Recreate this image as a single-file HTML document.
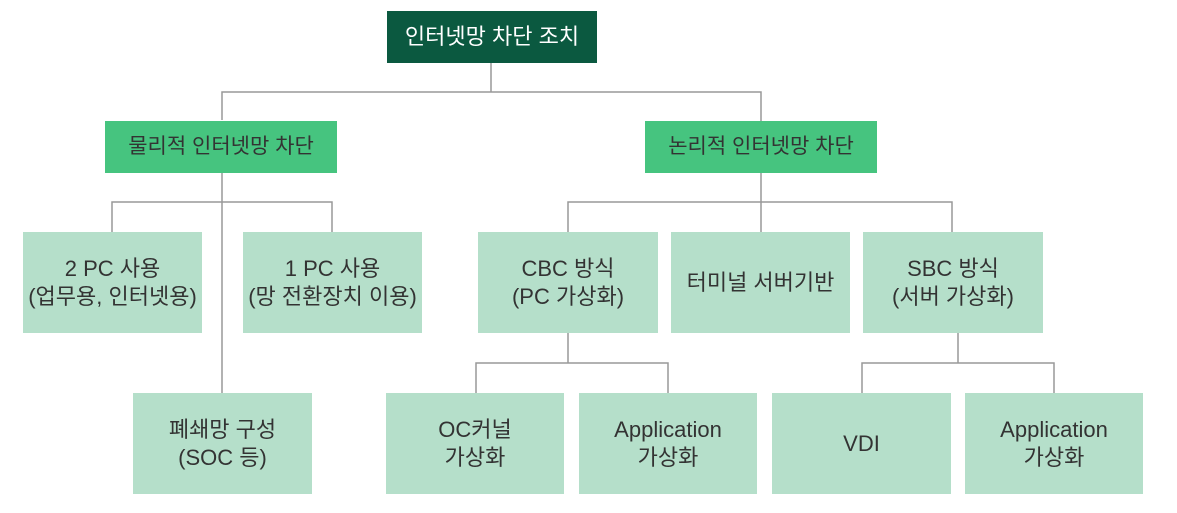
<!DOCTYPE html>
<html><head><meta charset="utf-8"><style>
body{margin:0;width:1177px;height:513px;background:#fff;position:relative;overflow:hidden;font-family:"Liberation Sans","Noto Sans CJK KR",sans-serif;}
.b{position:absolute;display:flex;align-items:center;justify-content:center;text-align:center;color:#333;font-size:22px;line-height:28px;}
.d{background:#0b5940;color:#fff;font-size:22px;}
.g{background:#46c47f;font-size:21px;}
.l{background:#b5dfca;}
svg{position:absolute;left:0;top:0}
</style></head><body>
<svg width="1177" height="513"><g stroke="#999" stroke-width="1.5" fill="none">
<path d="M491 63V92M222 120V92H761V121"/>
<path d="M222 173V393M112 232V202H332V232"/>
<path d="M761 173V232M568 232V202H952V232"/>
<path d="M568 333V363M476 393V363H668V393"/>
<path d="M958 333V363M862 393V363H1054V393"/>
</g></svg>
<div class="b d" style="left:387px;top:11px;width:210px;height:52px">인터넷망 차단 조치</div>
<div class="b g" style="left:105px;top:121px;width:232px;height:52px">물리적 인터넷망 차단</div>
<div class="b g" style="left:645px;top:121px;width:232px;height:52px">논리적 인터넷망 차단</div>
<div class="b l" style="left:23px;top:232px;width:179px;height:101px">2 PC 사용<br>(업무용, 인터넷용)</div>
<div class="b l" style="left:243px;top:232px;width:179px;height:101px">1 PC 사용<br>(망 전환장치 이용)</div>
<div class="b l" style="left:478px;top:232px;width:180px;height:101px">CBC 방식<br>(PC 가상화)</div>
<div class="b l" style="left:671px;top:232px;width:179px;height:101px">터미널 서버기반</div>
<div class="b l" style="left:863px;top:232px;width:180px;height:101px">SBC 방식<br>(서버 가상화)</div>
<div class="b l" style="left:133px;top:393px;width:179px;height:101px">폐쇄망 구성<br>(SOC 등)</div>
<div class="b l" style="left:386px;top:393px;width:178px;height:101px">OC커널<br>가상화</div>
<div class="b l" style="left:579px;top:393px;width:178px;height:101px">Application<br>가상화</div>
<div class="b l" style="left:772px;top:393px;width:179px;height:101px">VDI</div>
<div class="b l" style="left:965px;top:393px;width:178px;height:101px">Application<br>가상화</div>
</body></html>
